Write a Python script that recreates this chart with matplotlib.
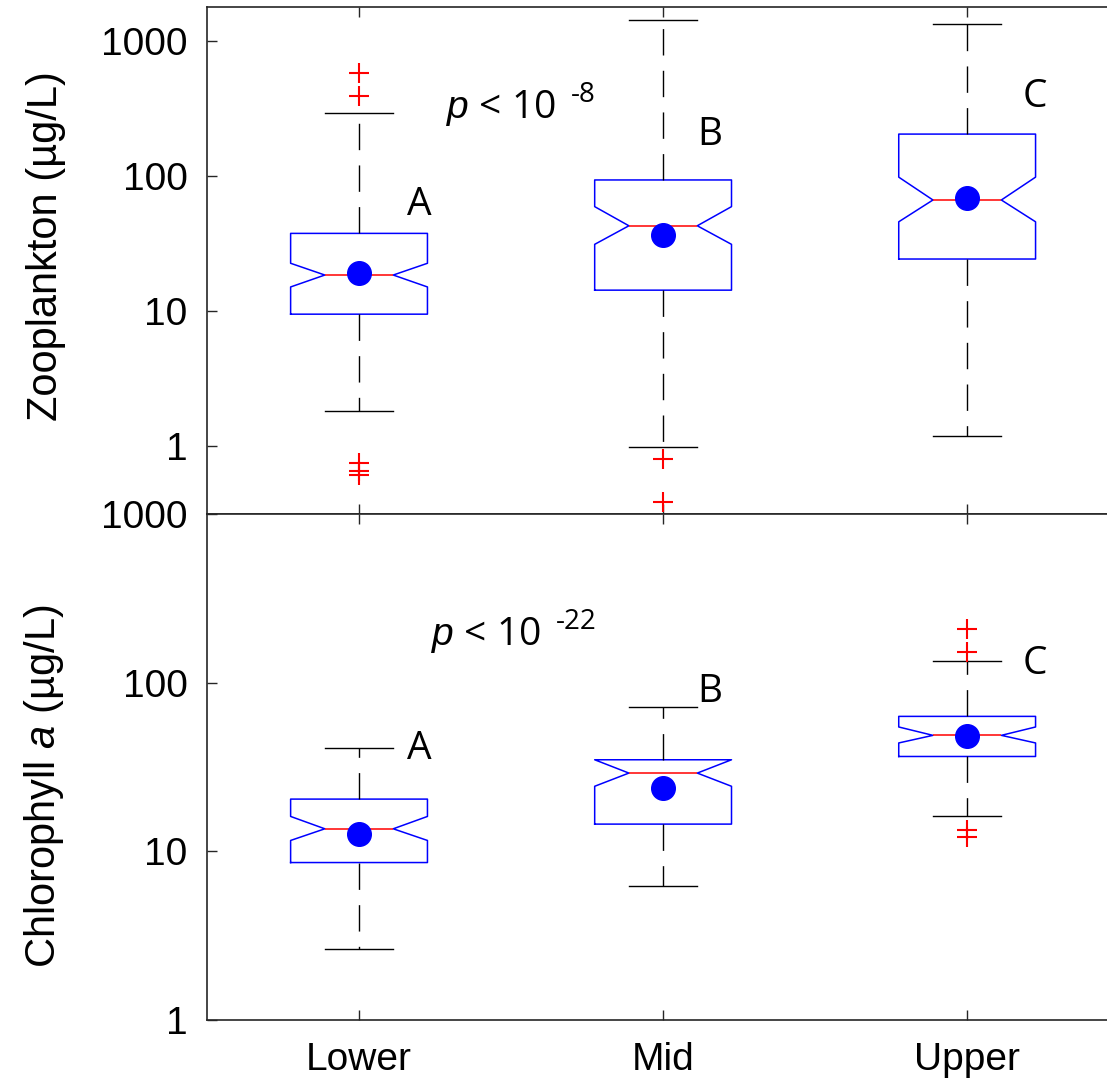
import matplotlib
matplotlib.use("Agg")
import matplotlib.pyplot as plt
from matplotlib.ticker import NullLocator
from matplotlib import font_manager

plt.rcParams['font.family'] = 'Liberation Sans'
plt.rcParams['mathtext.fontset'] = 'custom'
plt.rcParams['mathtext.rm'] = 'Liberation Sans'
plt.rcParams['mathtext.it'] = 'Liberation Sans:italic'

groups = ['Lower', 'Mid', 'Upper']

# zooplankton (ug/L)
zoo_whislo = [1.82, 0.99, 1.19]
zoo_q1 = [9.5, 14.3, 24.3]
zoo_cilo = [15.1, 31.2, 45.8]
zoo_med = [18.5, 42.8, 66.4]
zoo_cihi = [22.6, 59.3, 98.0]
zoo_q3 = [37.6, 93.4, 204.0]
zoo_whishi = [291.0, 1413.0, 1330.0]
zoo_fliers = [[582.0, 392.0, 0.75, 0.66, 0.61], [0.80, 0.39], []]
zoo_mean = [19.0, 36.6, 68.7]
zoo_letters = ['A', 'B', 'C']
zoo_letter_y = [51.4, 170.0, 324.0]

# chlorophyll a (ug/L)
chl_whislo = [2.64, 6.27, 16.1]
chl_q1 = [8.58, 14.5, 36.5]
chl_cilo = [11.6, 24.3, 43.9]
chl_med = [13.6, 29.1, 48.7]
chl_cihi = [16.1, 34.9, 54.6]
chl_q3 = [20.4, 34.9, 63.1]
chl_whishi = [40.7, 71.3, 134.5]
chl_fliers = [[], [], [208.0, 152.0, 13.4, 12.1]]
chl_mean = [12.7, 23.7, 48.0]
chl_letters = ['A', 'B', 'C']
chl_letter_y = [35.4, 76.4, 113.0]

letter_x = [1.158, 2.112, 3.181]
yticks = [1, 10, 100, 1000]

names = {f.name for f in font_manager.fontManager.ttflist}
xfont = 'Liberation Sans Narrow' if 'Liberation Sans Narrow' in names else 'Liberation Sans'


def make_stats(whislo, q1, cilo, med, cihi, q3, whishi, fliers):
    stats = []
    for i in range(len(med)):
        stats.append(dict(whislo=whislo[i], q1=q1[i], cilo=cilo[i], med=med[i],
                          cihi=cihi[i], q3=q3[i], whishi=whishi[i], fliers=fliers[i]))
    return stats


def draw_panel(ax, stats, means):
    pos = [1, 2, 3]
    ax.bxp(stats, positions=pos, widths=0.45, capwidths=0.225, shownotches=True,
           showfliers=True,
           boxprops=dict(color='#0000FF', linewidth=1.1),
           medianprops=dict(color='#FF0000', linewidth=1.1),
           whiskerprops=dict(color='black', linewidth=1.0, linestyle=(0, (19, 11))),
           capprops=dict(color='black', linewidth=1.0),
           flierprops=dict(marker='+', markeredgecolor='#FF0000', markersize=15,
                           markeredgewidth=1.5, linestyle='none'))
    ax.plot(pos, means, 'o', color='#0000FF', markersize=17, zorder=5)
    ax.set_yscale('log')
    ax.set_xlim(0.5, 3.5)
    ax.set_yticks(yticks, labels=[str(t) for t in yticks])
    ax.yaxis.set_minor_locator(NullLocator())
    ax.tick_params(axis='both', which='major', direction='in', length=7,
                   top=True, right=True, labelsize=28, width=1.0, color='#262626')
    ax.tick_params(axis='y', pad=14, labelfontfamily='Liberation Sans')
    for sp in ax.spines.values():
        sp.set_color('#262626')
        sp.set_linewidth(1.2)


def p_text(ax, x, y, expo):
    t = ax.text(x, y, '$\\mathit{p}$ < 10', fontsize=28, fontfamily='Open Sans',
                va='baseline', ha='left')
    ax.annotate(expo, xy=(1, 1), xycoords=t, xytext=(11, 5), textcoords='offset points',
                fontsize=20, fontfamily='Open Sans', va='top', ha='left')


fig = plt.figure(figsize=(11.07, 10.85), dpi=100)
ax1 = fig.add_axes([0.187, 0.5263, 0.824, 0.4673])
ax2 = fig.add_axes([0.187, 0.0599, 0.824, 0.4664])

draw_panel(ax1, make_stats(zoo_whislo, zoo_q1, zoo_cilo, zoo_med, zoo_cihi, zoo_q3,
                           zoo_whishi, zoo_fliers), zoo_mean)
draw_panel(ax2, make_stats(chl_whislo, chl_q1, chl_cilo, chl_med, chl_cihi, chl_q3,
                           chl_whishi, chl_fliers), chl_mean)

ax1.set_ylim(10 ** -0.5, 10 ** 3.25)
ax2.set_ylim(1, 1000)
ax1.set_xticks([1, 2, 3])
ax1.tick_params(axis='x', labelbottom=False)
ax2.set_xticks([1, 2, 3], labels=groups)
ax2.tick_params(axis='x', pad=16, labelfontfamily=xfont)

ax1.set_ylabel('Zooplankton (µg/L)', fontsize=30)
ax1.yaxis.set_label_coords(-0.155, 0.529)
ax2.set_ylabel('Chlorophyll $\\mathit{a}$ (µg/L)', fontsize=30)
ax2.yaxis.set_label_coords(-0.155, 0.462)

for x, y, s in zip(letter_x, zoo_letter_y, zoo_letters):
    ax1.text(x, y, s, fontsize=28, fontfamily='Open Sans', va='baseline', ha='left')
for x, y, s in zip(letter_x, chl_letter_y, chl_letters):
    ax2.text(x, y, s, fontsize=28, fontfamily='Open Sans', va='baseline', ha='left')

p_text(ax1, 1.286, 269, '-8')
p_text(ax2, 1.236, 168, '-22')

fig.savefig('out.png', dpi=100)
